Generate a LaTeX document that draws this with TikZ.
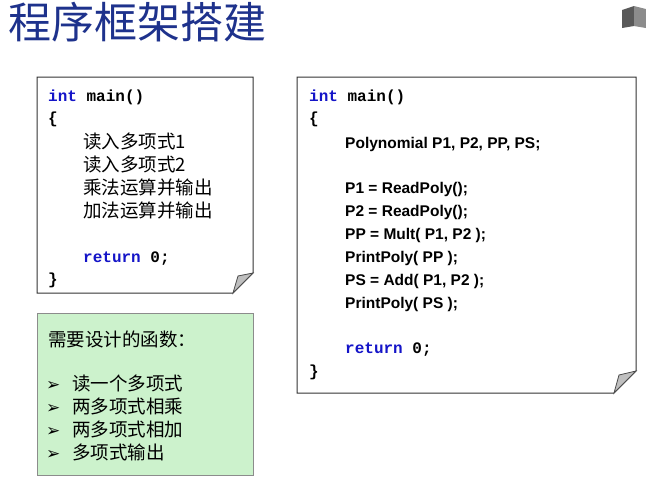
\documentclass[tikz,border=0pt]{standalone}
\usepackage{fontspec}
\setmainfont{Liberation Sans}
\setmonofont{Liberation Mono}
\newfontfamily\cjk{Noto Sans CJK SC}
\newfontfamily\symfont{DejaVu Sans}
\definecolor{titleblue}{RGB}{30,50,140}
\definecolor{kwblue}{RGB}{20,20,200}
\definecolor{notegreen}{RGB}{204,242,204}
\tikzset{
  code/.style={anchor=base west,inner sep=0pt,font=\ttfamily\bfseries\fontsize{16}{18}\selectfont},
  cn/.style={anchor=base west,inner sep=0pt,font=\cjk\fontsize{18.5}{20}\selectfont},
  sans/.style={anchor=base west,inner sep=0pt,font=\bfseries\fontsize{15.5}{18}\selectfont},
  paper/.style={draw=black!80,line width=1pt,fill=white},
  fold/.style={draw=black!70,line width=0.8pt,fill=black!25},
}
\newcommand{\kw}[1]{\textcolor{kwblue}{#1}}
\begin{document}
\begin{tikzpicture}[x=1pt,y=-1pt]
\useasboundingbox (0,0) rectangle (646,480);
% title
\node[anchor=base west,inner sep=0pt,text=titleblue,font=\cjk\fontsize{43}{46}\selectfont] (title) at (8,38) {程序框架搭建};
\fill[black!65] (622,10) -- (634,6) -- (634,26) -- (622,28) -- cycle;
\fill[black!45] (634,6) -- (646,9) -- (646,28) -- (634,26) -- cycle;
% left paper
\draw[paper] (37,77) -- (253,77) -- (253,273) -- (233,293) -- (37,293) -- cycle;
\draw[fold] (253,273) -- (233,293) -- (238,276) -- cycle;
\node[code] (lint) at (48,101) {\kw{int} main()};
\node[code] (lopen) at (48,123) {\{};
\node[cn] (l1) at (83,148) {读入多项式1};
\node[cn] (l2) at (83,171) {读入多项式2};
\node[cn] (l3) at (83,194) {乘法运算并输出};
\node[cn] (l4) at (83,217) {加法运算并输出};
\node[code] (lret) at (83,262) {\kw{return} 0;};
\node[code] (lclose) at (48,284) {\}};
% green note
\draw[draw=black!45,line width=0.8pt,fill=notegreen] (37,313) rectangle (253,475);
\node[cn] (g0) at (48,346) {需要设计的函数：};
\foreach \t [count=\i] in {读一个多项式,两多项式相乘,两多项式相加,多项式输出}{
  \node[anchor=base west,inner sep=0pt,font=\symfont\bfseries\fontsize{17}{19}\selectfont] (b\i) at (46,367+23*\i) {➢};
  \node[cn] (g\i) at (72,367+23*\i) {\t};
}
% right paper
\draw[paper] (297,77) -- (636,77) -- (636,371) -- (614,393) -- (297,393) -- cycle;
\draw[fold] (636,371) -- (614,393) -- (619,375) -- cycle;
\node[code] (rint) at (309,101) {\kw{int} main()};
\node[code] (ropen) at (309,123) {\{};
\node[sans] (decl) at (345,148) {Polynomial P1, P2, PP, PS;};
\node[sans] (r1) at (345,193) {P1 = ReadPoly();};
\node[sans] (r2) at (345,216) {P2 = ReadPoly();};
\node[sans] (r3) at (345,239) {PP = Mult( P1, P2 );};
\node[sans] (r4) at (345,262) {PrintPoly( PP );};
\node[sans] (r5) at (345,285) {PS = Add( P1, P2 );};
\node[sans] (r6) at (345,308) {PrintPoly( PS );};
\node[code] (rret) at (345,353) {\kw{return} 0;};
\node[code] (rclose) at (309,376) {\}};
\end{tikzpicture}
\end{document}
